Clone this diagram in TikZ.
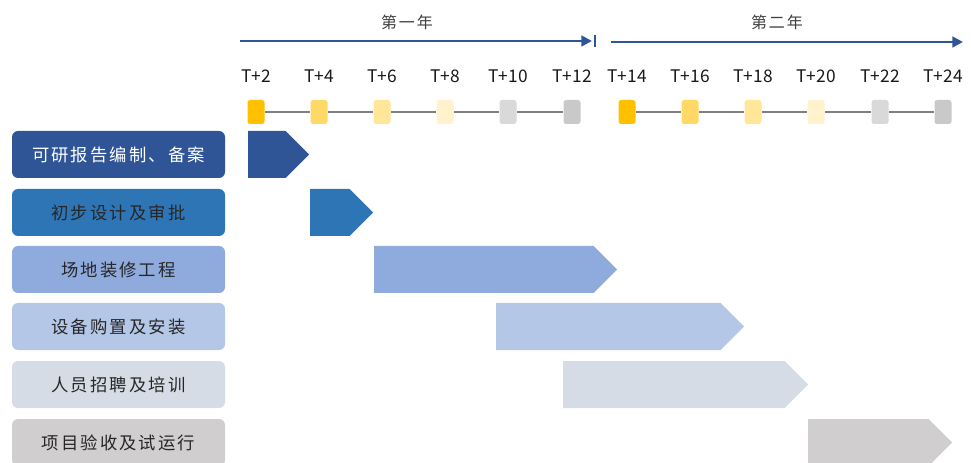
\documentclass[tikz,border=0pt]{standalone}
\usepackage{fontspec}
\usetikzlibrary{arrows.meta,positioning}
\newfontfamily\cjk[LetterSpace=12]{Noto Sans CJK SC}
\newfontfamily\cjknum{Noto Sans CJK SC}

\definecolor{rowA}{HTML}{2F5597}
\definecolor{rowB}{HTML}{2E75B6}
\definecolor{rowC}{HTML}{8FAADC}
\definecolor{rowD}{HTML}{B4C7E7}
\definecolor{rowE}{HTML}{D6DCE5}
\definecolor{rowF}{HTML}{D0CECE}
\definecolor{msA}{HTML}{FFC000}
\definecolor{msB}{HTML}{FFD966}
\definecolor{msC}{HTML}{FFE699}
\definecolor{msD}{HTML}{FFF2CC}
\definecolor{msE}{HTML}{D9D9D9}
\definecolor{msF}{HTML}{C9C9C9}
\definecolor{yearblue}{HTML}{2F5597}
\definecolor{msline}{HTML}{808080}

\tikzset{
  taskbox/.style={rounded corners=4.5pt, minimum width=159.75pt, minimum height=35.25pt,
    inner sep=0pt, font=\cjk\fontsize{13pt}{15pt}\selectfont, text=black!85},
  msbox/.style={rounded corners=2pt, minimum width=12.75pt, minimum height=18pt, inner sep=0pt},
  mslabel/.style={font=\cjknum\fontsize{13pt}{15pt}\selectfont, text=black!90},
  yearline/.style={draw=yearblue, line width=1.9pt},
  yearlabel/.style={font=\cjk\fontsize{12pt}{14pt}\selectfont, text=black!75}
}

\begin{document}
\begin{tikzpicture}[x=0.75pt,y=-0.75pt]
  \useasboundingbox (0,0) rectangle (971,463);
  \clip (0,0) rectangle (971,463);

  % Years
  \coordinate (y1s) at (240,41);
  \coordinate (y1e) at (592,41);
  \coordinate (y1b) at (595,41);
  \coordinate (y2s) at (611,42);
  \coordinate (y2e) at (963,42);
  \draw[yearline,-{Triangle[length=8pt,width=8pt]}] (y1s) -- (y1e);
  \draw[yearblue, line width=1.5pt] ([yshift=4.5pt]y1b) -- ([yshift=-4.5pt]y1b);
  \draw[yearline,-{Triangle[length=8pt,width=8pt]}] (y2s) -- (y2e);
  \node[yearlabel] (yr1) at (407,22) {第一年};
  \node[yearlabel] (yr2) at (777,22) {第二年};

  % Milestones
  \foreach \i/\x/\c/\t in {1/256/msA/2, 2/319/msB/4, 3/382/msC/6, 4/445/msD/8, 5/508/msE/10, 6/572/msF/12,
                            7/627/msA/14, 8/690/msB/16, 9/753/msC/18, 10/816/msD/20, 11/880/msE/22, 12/943/msF/24}
  {
    \node[msbox, fill=\c] (m\i) at (\x,112) {};
    \node[mslabel] (t\i) at (\x,76) {T+\t};
  }
  \foreach \i/\j in {1/2,2/3,3/4,4/5,5/6,7/8,8/9,9/10,10/11,11/12}
    \draw[msline, line width=2.2pt] (m\i) -- (m\j);

  % Tasks
  \node[taskbox, fill=rowA, text=white] (r1) at (118.5,154.5) {可研报告编制、备案};
  \node[taskbox, fill=rowB] (r2) at (118.5,212.5) {初步设计及审批};
  \node[taskbox, fill=rowC] (r3) at (118.5,269.5) {场地装修工程};
  \node[taskbox, fill=rowD] (r4) at (118.5,326.5) {设备购置及安装};
  \node[taskbox, fill=rowE] (r5) at (118.5,384.5) {人员招聘及培训};
  \node[taskbox, fill=rowF] (r6) at (118.5,442.5) {项目验收及试运行};

  % Bars
  \foreach \s/\t/\y/\c in {248/309/131/rowA, 310/373/189/rowB, 374/617/246/rowC,
                           496/744/303/rowD, 563/808/361/rowE, 808/952/419/rowF}
    \fill[\c] (\s,\y) -- (\t-23.5,\y) -- (\t,\y+23.5) -- (\t-23.5,\y+47) -- (\s,\y+47) -- cycle;

\end{tikzpicture}
\end{document}
